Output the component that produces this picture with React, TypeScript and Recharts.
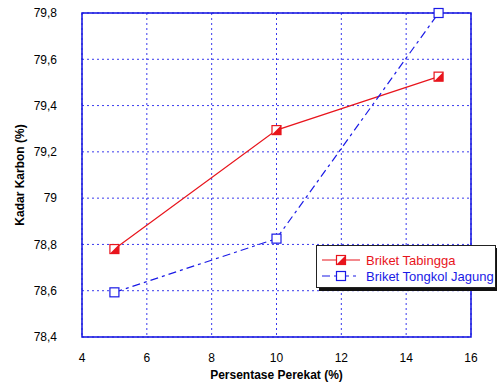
import { CartesianGrid, Line, LineChart, ReferenceArea, XAxis, YAxis } from "recharts";

const perekat = [5, 10, 15];
const tabingga = [78.78, 79.294, 79.525];
const tongkol = [78.593, 78.825, 79.8];
const xTicks = [4, 6, 8, 10, 12, 14, 16];
const yTicks = [78.4, 78.6, 78.8, 79, 79.2, 79.4, 79.6, 79.8];

const series = [
  { key: "tabingga", label: "Briket Tabingga", color: "#e8141c", dash: undefined as string | undefined, filled: true },
  { key: "tongkol", label: "Briket Tongkol Jagung", color: "#1a1ae6", dash: "8 4 3 4", filled: false },
];

const data = perekat.map((p, i) => ({ p, tabingga: tabingga[i], tongkol: tongkol[i] }));

const FONT = "'Liberation Sans', Arial, sans-serif";
const AXIS_BLUE = "#1010e0";

const fmt = (v: number) => (Number.isInteger(v) ? String(v) : v.toFixed(1).replace(".", ","));

if (typeof document !== "undefined") document.body.style.margin = "0";

function Marker({ cx, cy, color, filled }: { cx: number; cy: number; color: string; filled: boolean }) {
  const s = 4.5;
  return (
    <g>
      <rect x={cx - s} y={cy - s} width={s * 2} height={s * 2} fill="#fff" stroke={color} strokeWidth={1.2} />
      {filled && (
        <polygon
          points={`${cx + s},${cy - s} ${cx + s},${cy + s} ${cx - s},${cy + s}`}
          fill={color}
        />
      )}
    </g>
  );
}

function LegendBox() {
  return (
    <div
      style={{
        position: "absolute",
        left: 316,
        top: 245,
        width: 178,
        height: 41,
        background: "#fff",
        border: "1px solid #222",
        boxShadow: "3px 3px 0 #111",
        fontFamily: FONT,
        fontSize: 13,
      }}
    >
      {series.map((s, i) => (
        <div key={s.key} style={{ position: "absolute", left: 5, top: 7 + i * 16, height: 14, display: "flex", alignItems: "center" }}>
          <svg width={40} height={14}>
            <line x1={0} y1={7} x2={38} y2={7} stroke={s.color} strokeWidth={1.2} strokeDasharray={s.dash} />
            <Marker cx={19} cy={7} color={s.color} filled={s.filled} />
          </svg>
          <span style={{ color: s.color, marginLeft: 4, whiteSpace: "nowrap" }}>{s.label}</span>
        </div>
      ))}
    </div>
  );
}

export default function App() {
  return (
    <div style={{ position: "relative", width: 497, height: 383 }}>
      <LineChart width={497} height={383} data={data} margin={{ top: 13, right: 26, left: 0, bottom: 0 }}>
        <CartesianGrid stroke="#3a3aee" strokeDasharray="2 3" />
        <XAxis
          dataKey="p"
          type="number"
          domain={[4, 16]}
          ticks={xTicks}
          height={46}
          axisLine={false}
          tickLine={false}
          tickMargin={10}
          tick={{ fill: "#000", fontSize: 12, fontFamily: FONT }}
          label={{ value: "Persentase Perekat (%)", position: "insideBottom", offset: 4, fill: "#000", fontSize: 12, fontWeight: "bold", fontFamily: FONT }}
        />
        <YAxis
          type="number"
          domain={[78.4, 79.8]}
          ticks={yTicks}
          width={82}
          axisLine={false}
          tickLine={false}
          tickMargin={19}
          tickFormatter={fmt}
          tick={{ fill: "#000", fontSize: 12, fontFamily: FONT }}
          label={{ value: "Kadar Karbon (%)", angle: -90, position: "insideLeft", offset: 20, style: { textAnchor: "middle" }, fill: "#000", fontSize: 12, fontWeight: "bold", fontFamily: FONT }}
        />
        <ReferenceArea x1={4} x2={16} y1={78.4} y2={79.8} fill="none" stroke={AXIS_BLUE} strokeWidth={1.5} ifOverflow="visible" />
        {series.map((s) => (
          <Line
            key={s.key}
            dataKey={s.key}
            type="linear"
            stroke={s.color}
            strokeWidth={1.2}
            strokeDasharray={s.dash}
            isAnimationActive={false}
            dot={(props: any) => <Marker key={`${s.key}-${props.index}`} cx={props.cx} cy={props.cy} color={s.color} filled={s.filled} />}
          />
        ))}
      </LineChart>
      <LegendBox />
    </div>
  );
}
